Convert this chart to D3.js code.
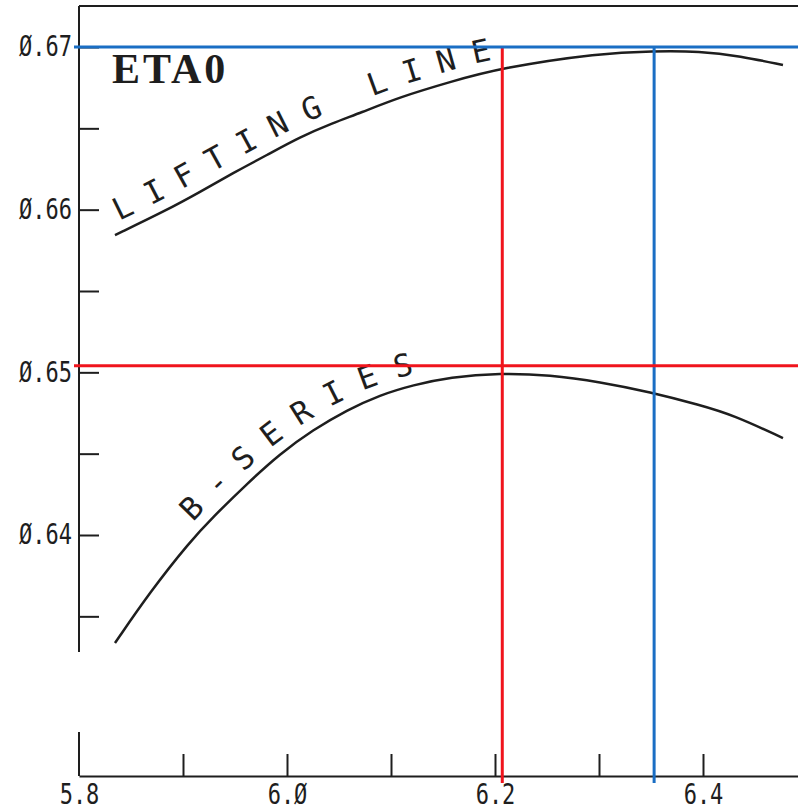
<!DOCTYPE html>
<html>
<head>
<meta charset="utf-8">
<script src="https://cdn.jsdelivr.net/npm/d3@7"></script>
<style>
  html, body { margin: 0; padding: 0; background: #fff; }
  svg { display: block; }
</style>
</head>
<body>
<div id="chart"></div>
<script>
// values
const xTicks = [5.8, 5.9, 6.0, 6.1, 6.2, 6.3, 6.4];
const xLabelled = [5.8, 6.0, 6.2, 6.4];
const yTicks = [0.635, 0.64, 0.645, 0.65, 0.655, 0.66, 0.665, 0.67];
const yLabelled = [0.64, 0.65, 0.66, 0.67];

const liftingX = [5.8346, 5.8846, 5.9163, 5.9481, 5.9808, 6.0125, 6.0442, 6.0702, 6.1087, 6.1567, 6.2048, 6.3010, 6.3519, 6.3971, 6.4356, 6.4769];
const liftingY = [0.65844, 0.65998, 0.66109, 0.66225, 0.66336, 0.66447, 0.66533, 0.66594, 0.66693, 0.66785, 0.66871, 0.66963, 0.66975, 0.66975, 0.66945, 0.66889];

const bSeriesX = [5.8346, 5.8683, 5.9067, 5.9288, 5.9615, 5.9933, 6.0250, 6.0577, 6.0894, 6.1212, 6.1567, 6.2048, 6.2529, 6.3010, 6.3490, 6.3971, 6.4288, 6.4769];
const bSeriesY = [0.63336, 0.63650, 0.63960, 0.64110, 0.64315, 0.64500, 0.64646, 0.64768, 0.64861, 0.64922, 0.64971, 0.64996, 0.64984, 0.64941, 0.64879, 0.64799, 0.64738, 0.64596];

const seriesNames = ["LIFTING LINE", "B-SERIES"];
const labelOffsets = [10, 142];   // where each label starts along its curve

// marker lines drawn over the plot: red, blue
const markerX = [6.207, 6.353];
const markerY = [0.6504, 0.67];
const markerColors = ["#f0141c", "#1a6ec4"];

const title = "ETA0";

const width = 798, height = 811;
const left = 79, frameTop = 6, axisY = 776;
const ink = "#1e1e1e";

const svg = d3.select("#chart").append("svg")
    .attr("width", width)
    .attr("height", height);

const x = d3.scaleLinear().domain([5.8, 6.5]).range([left, left + 728]);
const y = d3.scaleLinear().domain([0.64, 0.67]).range([535, 47]);

const fmt = d => d3.format(d >= 1 ? ".1f" : ".2f")(d).replace(/0/g, "Ø");

// frame: top rule and broken left axis
svg.append("line")
    .attr("x1", left).attr("x2", width)
    .attr("y1", frameTop).attr("y2", frameTop)
    .attr("stroke", ink).attr("stroke-width", 2);
svg.append("line")
    .attr("x1", left).attr("x2", left)
    .attr("y1", frameTop).attr("y2", 652)
    .attr("stroke", ink).attr("stroke-width", 2);
svg.append("line")
    .attr("x1", left).attr("x2", left)
    .attr("y1", 732).attr("y2", axisY)
    .attr("stroke", ink).attr("stroke-width", 2);

// y axis ticks pointing inward
const yAxis = svg.append("g")
    .attr("transform", `translate(${left},0)`)
    .call(d3.axisLeft(y)
        .tickValues(yTicks)
        .tickSizeInner(-20)
        .tickSizeOuter(0)
        .tickPadding(7)
        .tickFormat(d => yLabelled.some(v => Math.abs(v - d) < 1e-9) ? fmt(d) : ""));
yAxis.select(".domain").remove();

// x axis
const xAxis = svg.append("g")
    .attr("transform", `translate(0,${axisY})`)
    .call(d3.axisBottom(x)
        .tickValues(xTicks)
        .tickSizeInner(-22)
        .tickSizeOuter(0)
        .tickPadding(7)
        .tickFormat(d => xLabelled.some(v => Math.abs(v - d) < 1e-9) ? fmt(d) : ""));

[yAxis, xAxis].forEach(g => {
    g.selectAll("line, path").attr("stroke", ink).attr("stroke-width", 2);
    g.selectAll("text")
        .attr("fill", ink)
        .attr("font-family", "DejaVu Sans Mono")
        .attr("font-size", 22)
        .attr("transform", "scale(1,1.25)");
});
xAxis.selectAll(".tick").filter(d => d === 5.8).select("line").remove();

// title
svg.append("text")
    .attr("x", 112).attr("y", 83)
    .attr("font-family", "Liberation Serif")
    .attr("font-weight", "bold")
    .attr("font-size", 42)
    .attr("letter-spacing", 3)
    .attr("fill", ink)
    .text(title);

// curves
const line = d3.line()
    .x(d => x(d[0]))
    .y(d => y(d[1]))
    .curve(d3.curveBasis);

const series = [d3.zip(liftingX, liftingY), d3.zip(bSeriesX, bSeriesY)];

series.forEach((pts, i) => {
    svg.append("path")
        .attr("id", "curve" + i)
        .attr("d", line(pts))
        .attr("fill", "none")
        .attr("stroke", ink)
        .attr("stroke-width", 2.5);

    svg.append("text")
        .attr("font-family", "DejaVu Sans Mono")
        .attr("font-size", 31)
        .attr("letter-spacing", 16.5)
        .attr("fill", ink)
        .append("textPath")
        .attr("href", "#curve" + i)
        .attr("startOffset", labelOffsets[i])
        .append("tspan")
        .attr("dy", -11)
        .text(seriesNames[i]);
});

// marker lines on top
markerX.forEach((v, i) => {
    svg.append("line")
        .attr("x1", x(v)).attr("x2", x(v))
        .attr("y1", y(0.67)).attr("y2", 783)
        .attr("stroke", markerColors[i]).attr("stroke-width", 3);
});
markerY.forEach((v, i) => {
    svg.append("line")
        .attr("x1", 74).attr("x2", width)
        .attr("y1", y(v)).attr("y2", y(v))
        .attr("stroke", markerColors[i]).attr("stroke-width", 3);
});
</script>
</body>
</html>
